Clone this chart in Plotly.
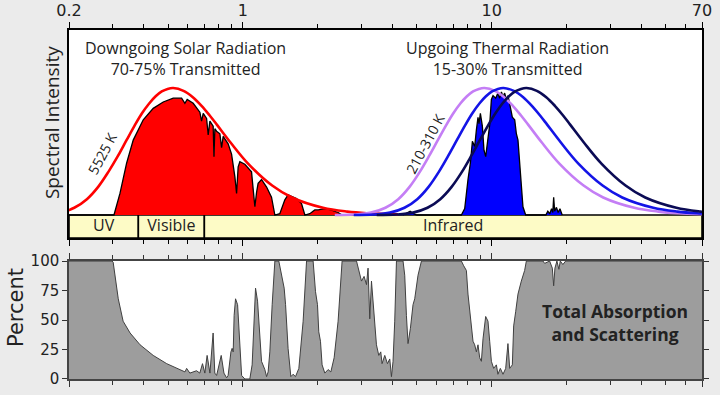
import math
import plotly.graph_objects as go

# ---------------- data ----------------
# relative blackbody shape values (same for every curve, plotted vs wavelength in micrometres)
BB_REL = [0.0, 0.004, 0.019, 0.057, 0.125, 0.222, 0.340, 0.467, 0.591, 0.704, 0.801, 0.878,
          0.935, 0.973, 0.993, 1.0, 0.978, 0.928, 0.860, 0.786, 0.710, 0.571, 0.405, 0.232,
          0.138, 0.057, 0.027, 0.014, 0.005]
SUN_5525K_WL = [0.131, 0.157, 0.184, 0.210, 0.236, 0.262, 0.288, 0.315, 0.341, 0.367, 0.393, 0.420,
                0.446, 0.472, 0.498, 0.5245, 0.577, 0.629, 0.682, 0.734, 0.787, 0.892, 1.049, 1.311,
                1.574, 2.098, 2.623, 3.147, 4.196]
EARTH_310K_WL = [2.34, 2.805, 3.27, 3.74, 4.21, 4.675, 5.14, 5.61, 6.08, 6.545, 7.01, 7.48, 7.95,
                 8.415, 8.88, 9.35, 10.29, 11.22, 12.16, 13.09, 14.03, 15.9, 18.7, 23.4, 28.05,
                 37.4, 46.75, 56.1, 74.8]
EARTH_260K_WL = [2.79, 3.345, 3.90, 4.46, 5.02, 5.575, 6.13, 6.69, 7.25, 7.805, 8.36, 8.92, 9.48,
                 10.035, 10.59, 11.15, 12.27, 13.38, 14.5, 15.61, 16.73, 18.96, 22.3, 27.9, 33.45,
                 44.6, 55.75, 66.9, 89.2]
EARTH_210K_WL = [3.45, 4.14, 4.83, 5.52, 6.21, 6.9, 7.59, 8.28, 8.97, 9.66, 10.35, 11.04, 11.73,
                 12.42, 13.11, 13.8, 15.18, 16.56, 17.94, 19.32, 20.7, 23.46, 27.6, 34.5, 41.4,
                 55.2, 69.0, 82.8, 110.4]

# transmitted solar spectrum (relative)
SOLAR_WL = [0.2, 0.300, 0.3032, 0.3205, 0.341, 0.3624, 0.3976, 0.4361, 0.4783, 0.5246, 0.567,
            0.5845, 0.5971, 0.6313, 0.6714, 0.6821, 0.6925, 0.7145, 0.7252, 0.7367, 0.7594,
            0.765, 0.7714, 0.7837, 0.8081, 0.8209, 0.8331, 0.8724, 0.9003, 0.9284, 0.943, 0.957,
            0.9721, 1.018, 1.083, 1.100, 1.117, 1.135, 1.151, 1.188, 1.245, 1.303, 1.344, 1.407,
            1.474, 1.519, 1.642, 1.720, 1.774, 1.857, 1.945, 2.006, 2.134, 2.256, 2.413, 2.504,
            3.5, 3.9]
SOLAR_REL = [0, 0, 0, 0.17, 0.41, 0.59, 0.75, 0.84, 0.89, 0.92, 0.92,
             0.88, 0.91, 0.88, 0.81, 0.74, 0.80, 0.76, 0.63, 0.74, 0.70,
             0.46, 0.68, 0.66, 0.64, 0.53, 0.62, 0.56, 0.48, 0.30, 0.17, 0.38,
             0.42, 0.40, 0.34, 0.20, 0.065, 0.18, 0.25, 0.28, 0.22, 0.14, 0.0, 0.01,
             0.12, 0.16, 0.13, 0.09, 0.0, 0.01, 0.04, 0.04, 0.05, 0.04, 0.02, 0.0,
             0.005, 0.0]

# transmitted thermal spectrum (relative)
THERMAL_WL = [4.4, 4.6, 4.7, 4.8, 5.0, 7.552, 7.788, 8.028, 8.209, 8.362, 8.542, 8.677, 8.807,
              8.888, 9.003, 9.17, 9.309, 9.456, 9.605, 9.813, 9.968, 10.12, 10.37, 10.59, 10.76,
              10.94, 11.10, 11.27, 11.45, 11.62, 11.88, 12.10, 12.37, 12.56, 12.75, 12.95, 13.15,
              13.35, 13.69, 16.5, 16.8, 17.1, 17.4, 17.6, 17.74, 17.9, 18.2, 18.5, 18.8, 19.2]
THERMAL_REL = [0, 0.02, 0.03, 0.015, 0, 0, 0.05, 0.28, 0.41, 0.58, 0.54, 0.67, 0.77,
               0.72, 0.80, 0.70, 0.51, 0.46, 0.55, 0.71, 0.91, 0.94, 0.92, 0.96, 0.92,
               0.97, 0.93, 0.96, 0.91, 0.94, 0.85, 0.77, 0.75, 0.64, 0.59, 0.43, 0.22,
               0.065, 0, 0, 0.03, 0.01, 0.05, 0.02, 0.14, 0.03, 0.06, 0.02, 0.05, 0]

# total absorption and scattering (percent)
ABS_WL = [0.2, 0.298, 0.301, 0.306, 0.3155, 0.330, 0.352, 0.386, 0.436, 0.494, 0.558, 0.585,
          0.594, 0.612, 0.651, 0.671, 0.688, 0.703, 0.718, 0.737, 0.759, 0.771, 0.784, 0.818,
          0.839, 0.860, 0.872, 0.895, 0.905, 0.914, 0.922, 0.934, 0.952, 0.972, 0.988, 1.018,
          1.066, 1.089, 1.110, 1.124, 1.145, 1.170, 1.188, 1.225, 1.245, 1.263, 1.283, 1.311,
          1.344, 1.394, 1.430, 1.465, 1.484, 1.519, 1.558, 1.591, 1.627, 1.678, 1.746, 1.802,
          1.915, 1.958, 1.994, 2.018, 2.050, 2.081, 2.134, 2.200, 2.256, 2.326, 2.413, 2.504,
          2.861, 2.950, 2.996, 3.069, 3.138, 3.184, 3.235, 3.286, 3.335, 3.441, 3.516, 3.581,
          3.624, 3.716, 3.810, 3.892, 3.954, 4.012, 4.075, 4.141, 4.401, 4.470, 4.541, 4.609,
          4.712, 4.827, 4.904, 4.982, 5.056, 5.218, 7.552, 7.714, 7.910, 8.028, 8.155, 8.286,
          8.409, 8.542, 8.677, 8.807, 8.946, 9.088, 9.225, 9.456, 9.659, 9.813, 9.968, 10.18,
          10.44, 10.59, 10.83, 11.10, 11.38, 11.62, 11.81, 12.10, 12.25, 12.48, 12.75, 13.15,
          13.56, 13.78, 16.07, 16.32, 17.09, 17.52, 17.74, 17.95, 18.28, 18.62, 18.86, 19.32,
          19.82, 70]
ABS_PCT = [100, 100, 99, 88, 68, 49, 39, 29, 20, 13, 8, 6,
           9, 5, 7, 5, 13, 5, 20, 5, 39, 5, 3, 20,
           5, 1, 3, 23, 26, 23, 54, 68, 63, 32, 3, 0,
           0, 12, 49, 77, 66, 37, 15, 8, 2, 6, 23, 63,
           100, 100, 88, 77, 63, 26, 2, 4, 2, 9, 49, 100,
           100, 74, 63, 40, 32, 12, 5, 8, 6, 18, 49, 100,
           100, 88, 83, 87, 80, 94, 51, 83, 63, 29, 20, 23,
           13, 20, 13, 17, 2, 15, 49, 100, 100, 88, 54, 30,
           43, 63, 68, 80, 88, 100, 100, 96, 92, 72, 58, 49,
           32, 29, 23, 29, 18, 15, 34, 53, 49, 32, 15, 9,
           12, 4, 9, 4, 9, 30, 9, 12, 45, 57, 72, 83,
           92, 100, 100, 98, 100, 94, 79, 94, 100, 93, 100, 97,
           100, 100]

BAND_NAMES = ["UV", "Visible", "Infrared"]
BAND_EDGES = [0.2, 0.38, 0.7, 70]
X_TICKS = [0.2, 1, 10, 70]
X_TICK_TEXT = ["0.2", "1", "10", "70"]
X_MINOR = [0.3, 0.4, 0.5, 0.6, 0.7, 0.8, 0.9, 2, 3, 4, 5, 6, 7, 8, 9, 20, 30, 40, 50, 60]
PCT_TICKS = [0, 25, 50, 75, 100]

# ---------------- style ----------------
BG = "#ebebeb"
BAND_FILL = "#fdfbc6"
ANNO_FONT = "Open Sans"
TICK_FONT = "DejaVu Sans"
BAND_BOTTOM = -0.181
TOP_MAX = 1.457

fig = go.Figure()

# band bar
for name, a, b in zip(BAND_NAMES, BAND_EDGES[:-1], BAND_EDGES[1:]):
    fig.add_trace(go.Scatter(x=[a, b, b, a, a], y=[BAND_BOTTOM, BAND_BOTTOM, 0, 0, BAND_BOTTOM],
                             mode="lines", fill="toself", fillcolor=BAND_FILL,
                             line=dict(color="black", width=1.6), hoverinfo="skip",
                             showlegend=False, xaxis="x", yaxis="y"))
fig.add_trace(go.Scatter(
    x=[math.sqrt(a * b) for a, b in zip(BAND_EDGES[:-1], BAND_EDGES[1:])],
    y=[BAND_BOTTOM / 2] * len(BAND_NAMES), text=BAND_NAMES, mode="text",
    textfont=dict(family=ANNO_FONT, size=16, color="#222"), showlegend=False,
    hoverinfo="skip", xaxis="x", yaxis="y"))

# transmitted spectra
fig.add_trace(go.Scatter(x=SOLAR_WL, y=SOLAR_REL, mode="lines", fill="tozeroy",
                         fillcolor="#ff0000", line=dict(color="black", width=1.3),
                         showlegend=False, xaxis="x", yaxis="y"))
fig.add_trace(go.Scatter(x=THERMAL_WL, y=THERMAL_REL, mode="lines", fill="tozeroy",
                         fillcolor="#0000ff", line=dict(color="black", width=1.3),
                         showlegend=False, xaxis="x", yaxis="y"))

# blackbody envelopes
for wl, col in [(SUN_5525K_WL, "#ff0000"), (EARTH_310K_WL, "#c47ef5"),
                (EARTH_260K_WL, "#1414e6"), (EARTH_210K_WL, "#0b0b55")]:
    fig.add_trace(go.Scatter(x=wl, y=BB_REL, mode="lines", line=dict(color=col, width=2.6, shape="spline"),
                             showlegend=False, xaxis="x", yaxis="y"))

# absorption panel
fig.add_trace(go.Scatter(x=ABS_WL, y=ABS_PCT, mode="lines", fill="tozeroy",
                         fillcolor="#9d9d9d", line=dict(color="#404040", width=1),
                         showlegend=False, xaxis="x2", yaxis="y2"))


def anno(text, x, y, size, angle=0, family=ANNO_FONT):
    return dict(text=text, xref="paper", yref="paper", x=x, y=y, xanchor="center",
                yanchor="middle", textangle=angle, showarrow=False,
                font=dict(family=family, size=size, color="#222"))


xr = [math.log10(BAND_EDGES[0]), math.log10(BAND_EDGES[-1])]
fig.update_layout(
    width=720, height=395,
    margin=dict(l=69, r=18, t=30, b=16),
    paper_bgcolor=BG, plot_bgcolor="white",
    xaxis=dict(type="log", range=xr, side="top", anchor="y", domain=[0, 1], automargin=False,
               tickvals=X_TICKS, ticktext=X_TICK_TEXT, ticks="outside", ticklen=6,
               tickcolor="black", showline=True, linecolor="black", linewidth=1.5,
               mirror="ticks", showgrid=False, zeroline=False,
               tickfont=dict(family=TICK_FONT, size=16, color="#222"),
               minor=dict(tickvals=X_MINOR, ticks="outside", ticklen=4, tickcolor="black",
                          showgrid=False)),
    yaxis=dict(range=[BAND_BOTTOM, TOP_MAX], domain=[0.404, 1], anchor="x", automargin=False,
               showticklabels=False, ticks="", showgrid=False, zeroline=False,
               showline=True, linecolor="black", linewidth=1.5, mirror=True),
    xaxis2=dict(type="log", range=xr, anchor="y2", domain=[0, 1], matches="x", automargin=False,
                tickvals=X_TICKS, showticklabels=False, ticks="outside", ticklen=6,
                tickcolor="#333", showline=True, linecolor="#444", linewidth=1.5,
                mirror="ticks", showgrid=False, zeroline=False,
                minor=dict(tickvals=X_MINOR, ticks="outside", ticklen=4, tickcolor="#333",
                           showgrid=False)),
    yaxis2=dict(range=[0, 100], domain=[0, 0.338], anchor="x2", tickvals=PCT_TICKS,
                automargin=False,
                ticks="outside", ticklen=5, tickcolor="#333", showline=True,
                linecolor="#444", linewidth=1.5, mirror="ticks", showgrid=False,
                zeroline=False, tickfont=dict(family=TICK_FONT, size=15, color="#222")),
    annotations=[
        anno("Spectral Intensity", -0.0269, 0.736, 19, -90),
        anno("Percent", -0.0829, 0.205, 21, -90, TICK_FONT),
        anno("Downgoing Solar Radiation<br>70-75% Transmitted", 0.1833, 0.918, 16),
        anno("Upgoing Thermal Radiation<br>15-30% Transmitted", 0.6935, 0.918, 16),
        anno("5525 K", 0.0537, 0.6476, 14, -62),
        anno("210-310 K", 0.5624, 0.676, 14, -62),
        anno("<b>Total Absorption<br>and Scattering</b>", 0.8626, 0.163, 17.5),
    ],
)

fig.write_html("out.html", config={"displayModeBar": False},
               post_script="document.body.style.margin='0';document.body.style.background='%s';" % BG)
